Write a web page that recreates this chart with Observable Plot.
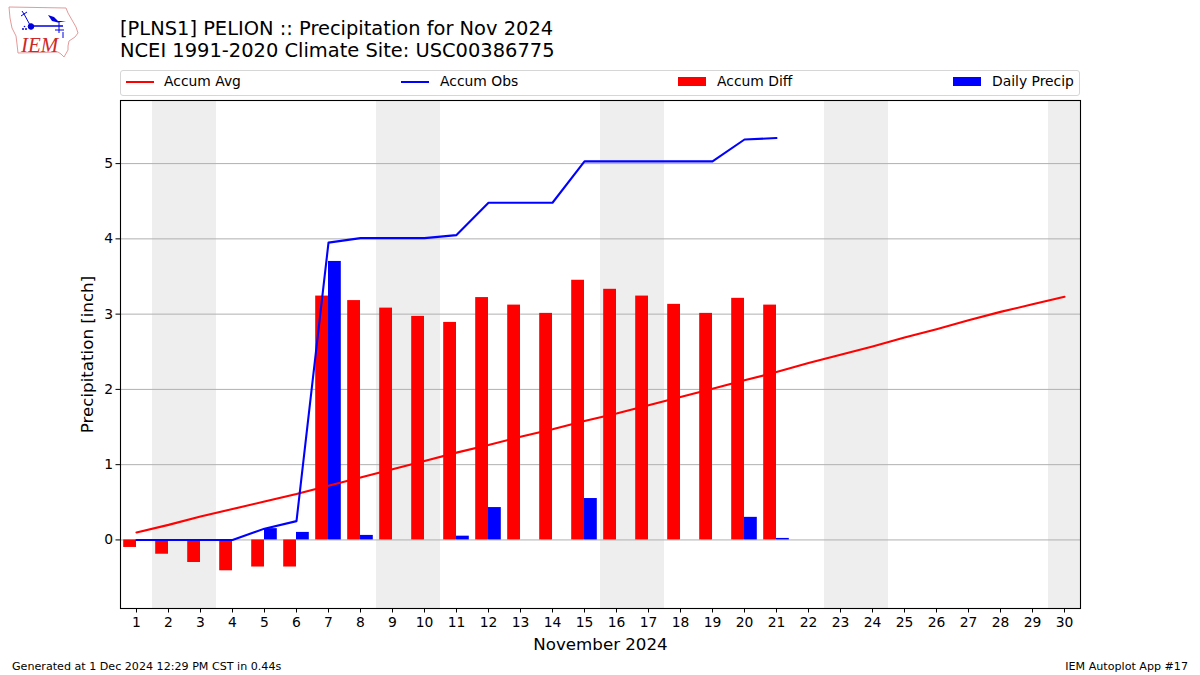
<!DOCTYPE html>
<html>
<head>
<meta charset="utf-8">
<script src="https://cdn.jsdelivr.net/npm/d3@7"></script>
<script src="https://cdn.jsdelivr.net/npm/@observablehq/plot@0.6"></script>
<style>
html,body{margin:0;padding:0;background:#fff;}
#page{position:relative;width:1200px;height:675px;overflow:hidden;font-family:"DejaVu Sans",sans-serif;color:#000;}
#chart{position:absolute;left:0;top:96px;}
.t{position:absolute;white-space:nowrap;}
#title{left:120px;top:18px;font-size:19.44px;line-height:22px;}
#legend{position:absolute;left:120px;top:70px;width:958px;height:24px;border:1px solid #d6d6d6;border-radius:3px;}
.lt{position:absolute;top:2px;font-size:13.89px;line-height:17px;white-space:nowrap;}
.sw{position:absolute;}
.foot{position:absolute;top:660px;font-size:11.11px;line-height:13px;white-space:nowrap;}
#logo{position:absolute;left:0;top:0;}
</style>
</head>
<body>
<div id="page">
  <svg id="logo" width="90" height="65" viewBox="0 0 90 65">
    <path d="M9 7 L66 8 L68 13 L72 20 L76 27 L78 33 L75 37 L69 41 L68 46 L68 50 L64 57 L61 54 L58 52 L18 53 L17 44 L16 36 L12 28 L10 18 Z" fill="#fff" stroke="#e59a9a" stroke-width="1"/>
    <g stroke="#0000e0" fill="#0000e0">
      <path d="M30 26 H63" stroke-width="1.6" fill="none"/>
      <circle cx="31" cy="26.5" r="2.8"/>
      <path d="M30 25 L24 14 M24 14 L21 16 M24 14 L22 11 M27 12 L24 14" stroke-width="1" fill="none"/>
      <path d="M48 15 L54 17 L58 21 L66 21 L58 22.5 L52 21 Z" stroke="none"/>
      <path d="M59 22 V33 M55 30 H64 M63 32 V38" stroke-width="1" fill="none"/>
      <circle cx="23" cy="29" r="1" stroke="none"/>
      <circle cx="26" cy="29" r="1" stroke="none"/>
      <circle cx="24.5" cy="26.5" r="0.8" stroke="none"/>
    </g>
    <text x="21" y="52" font-family="Liberation Serif, serif" font-style="italic" font-size="21" fill="#cc2a2a">IEM</text>
  </svg>
  <div id="title" class="t">[PLNS1] PELION :: Precipitation for Nov 2024<br>NCEI 1991-2020 Climate Site: USC00386775</div>
  <div id="legend"></div>
  <div id="chart"></div>
  <div class="foot" style="left:12px;">Generated at 1 Dec 2024 12:29 PM CST in 0.44s</div>
  <div class="foot" style="right:12px;">IEM Autoplot App #17</div>
</div>
<script>
const days = d3.range(1, 31);
const accumAvg = [0.10,0.20,0.31,0.41,0.51,0.61,0.72,0.83,0.94,1.05,1.16,1.26,1.37,1.47,1.58,1.68,1.79,1.90,2.01,2.12,2.23,2.35,2.46,2.57,2.69,2.80,2.92,3.03,3.13,3.23];
const accumObs = [0,0,0,0,0.15,0.25,3.95,4.01,4.01,4.01,4.05,4.48,4.48,4.48,5.03,5.03,5.03,5.03,5.03,5.32,5.34];
const accumDiff = [-0.10,-0.19,-0.30,-0.41,-0.36,-0.36,3.24,3.18,3.08,2.97,2.89,3.22,3.12,3.01,3.45,3.33,3.24,3.13,3.01,3.21,3.12];
const dailyPrecip = [0,0,0,0,0.15,0.10,3.70,0.06,0,0,0.05,0.43,0,0,0.55,0,0,0,0,0.30,0.02];
const weekendStart = [1.5,8.5,15.5,22.5,29.5];
const weekendEnd = [3.5,10.5,17.5,24.5,30.5];
const yTicks = [0,1,2,3,4,5];
const barWidth = 0.4;

const weekends = weekendStart.map((s,i)=>({x1:s,x2:weekendEnd[i]}));
const avgRows = accumAvg.map((v,i)=>({day:days[i],v}));
const obsRows = accumObs.map((v,i)=>({day:days[i],v}));
const diffRows = accumDiff.map((v,i)=>({x1:days[i]-barWidth,x2:days[i],v}));
const dailyRows = dailyPrecip.map((v,i)=>({x1:days[i],x2:days[i]+barWidth,v})).filter(d=>d.v>0);

const fontSize = 13.89;
const plot = Plot.plot({
  width:1200, height:560,
  marginLeft:120, marginRight:120, marginTop:4, marginBottom:48,
  style:{fontFamily:'"DejaVu Sans",sans-serif',fontSize:fontSize+"px",color:"#000",background:"transparent"},
  x:{domain:[0.5,30.5],range:[120,1080]},
  y:{domain:[-0.911,5.845],range:[512,3.5]},
  marks:[
    Plot.rect(weekends,{x1:"x1",x2:"x2",fill:"#eeeeee"}),
    Plot.ruleY(yTicks,{stroke:"#b0b0b0",strokeWidth:1}),
    Plot.rectY(diffRows,{x1:"x1",x2:"x2",y1:0,y2:"v",fill:"#ff0000"}),
    Plot.rectY(dailyRows,{x1:"x1",x2:"x2",y1:0,y2:"v",fill:"#0000ff"}),
    Plot.line(avgRows,{x:"day",y:"v",stroke:"#ff0000",strokeWidth:2.08}),
    Plot.line(obsRows,{x:"day",y:"v",stroke:"#0000ff",strokeWidth:2.08}),
    Plot.frame({stroke:"#000",strokeWidth:1.1}),
    Plot.axisX(days,{tickSize:4.5,tickPadding:4,label:null,fontSize:fontSize,stroke:"#000",strokeWidth:1,tickFormat:d=>d}),
    Plot.axisY(yTicks,{tickSize:4.5,tickPadding:3,label:null,fontSize:fontSize,stroke:"#000",strokeWidth:1,tickFormat:d=>d}),
    Plot.text(["November 2024"],{frameAnchor:"bottom",dy:41,fontSize:16.67,fill:"#000",lineAnchor:"bottom"}),
    Plot.text(["Precipitation [inch]"],{frameAnchor:"left",textAnchor:"middle",dx:-33,rotate:-90,fontSize:16.67,fill:"#000"})
  ]
});
document.getElementById("chart").appendChild(plot);

const legend = document.getElementById("legend");
const legendItems = [
  {label:"Accum Avg",color:"#ff0000",kind:"line",sw:5,tx:43},
  {label:"Accum Obs",color:"#0000ff",kind:"line",sw:280,tx:319},
  {label:"Accum Diff",color:"#ff0000",kind:"bar",sw:557,tx:596},
  {label:"Daily Precip",color:"#0000ff",kind:"bar",sw:832,tx:871}
];
for(const it of legendItems){
  const s=document.createElement("div");
  s.className="sw";
  s.style.cssText=`left:${it.sw}px;width:28px;background:${it.color};`+(it.kind==="line"?"top:10px;height:2px;":"top:6px;height:9px;");
  legend.appendChild(s);
  const t=document.createElement("div");
  t.className="lt";
  t.style.left=it.tx+"px";
  t.textContent=it.label;
  legend.appendChild(t);
}
</script>
</body>
</html>
